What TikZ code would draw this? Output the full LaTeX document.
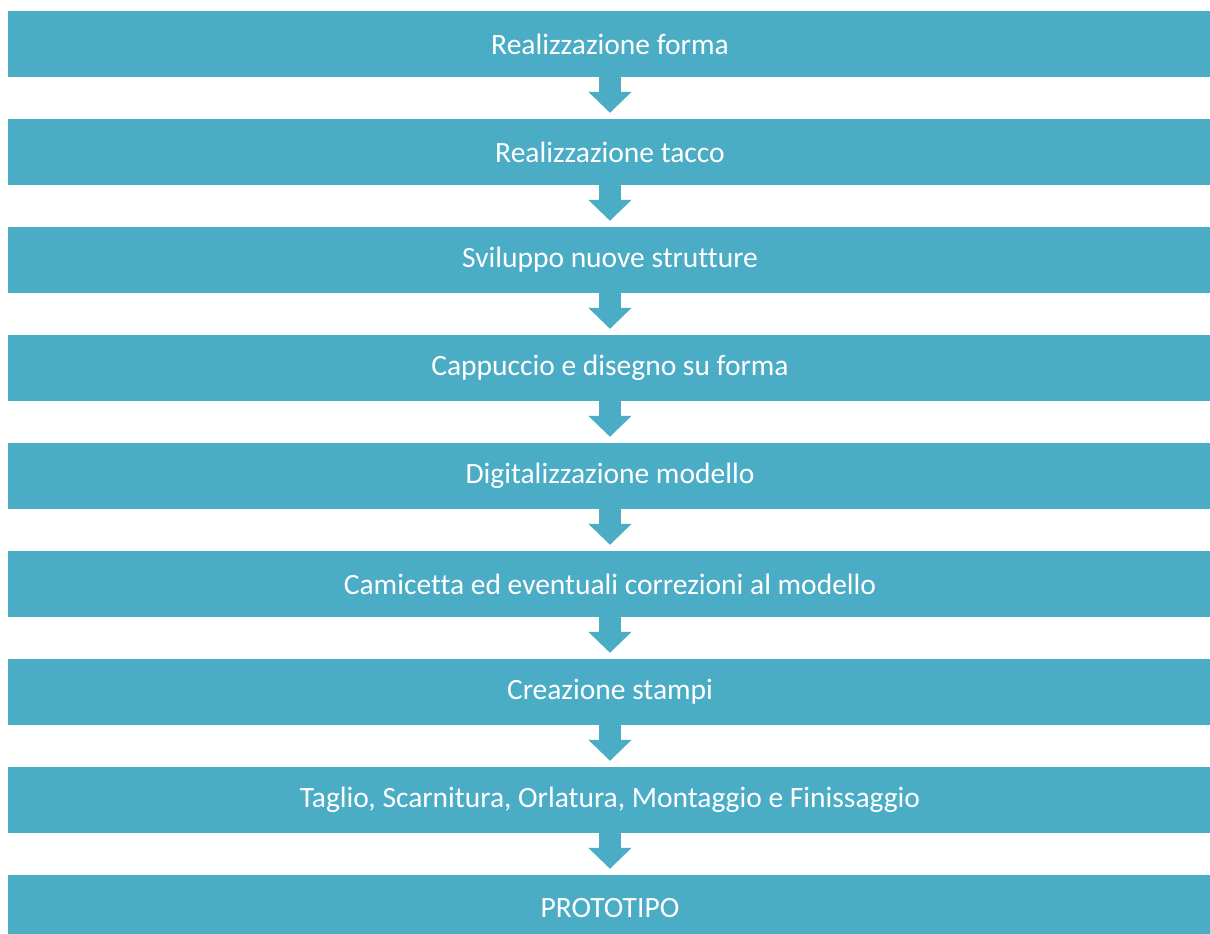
\documentclass[tikz,border=0pt]{standalone}
\usepackage{fontspec}
\setmainfont{Carlito}[Ligatures=NoCommon]
\usetikzlibrary{arrows.meta, positioning}

\definecolor{stepblue}{HTML}{4BACC6}

\begin{document}
\begin{tikzpicture}[x=1pt, y=-1pt,
  stepbox/.style={fill=stepblue, draw=none, text=white, inner sep=0pt,
    minimum width=1204pt, minimum height=66pt,
    font=\fontsize{29.5}{33}\selectfont},
  flowarrow/.style={draw=stepblue, line width=22pt,
    -{Triangle[width=42pt, length=21pt]}, shorten >=6pt}]

\def \xmid{610}
\def \yfirst{44} % centre of first box
\def \ystep{108}

\useasboundingbox (0,0) rectangle (1210,934);

% boxes from top to bottom
\node[stepbox] (forma)     at (\xmid, \yfirst)            {Realizzazione forma};
\node[stepbox] (tacco)     at (\xmid, \yfirst + \ystep)   {Realizzazione tacco};
\node[stepbox] (strutture) at (\xmid, \yfirst + 2*\ystep) {Sviluppo nuove strutture};
\node[stepbox] (cappuccio) at (\xmid, \yfirst + 3*\ystep) {Cappuccio e disegno su forma};
\node[stepbox] (digitale)  at (\xmid, \yfirst + 4*\ystep) {Digitalizzazione modello};
\node[stepbox] (camicetta) at (\xmid, \yfirst + 5*\ystep) {Camicetta ed eventuali correzioni al modello};
\node[stepbox] (stampi)    at (\xmid, \yfirst + 6*\ystep) {Creazione stampi};
\node[stepbox] (taglio)    at (\xmid, \yfirst + 7*\ystep) {Taglio, Scarnitura, Orlatura, Montaggio e Finissaggio};
\node[stepbox] (prototipo) at (\xmid, \yfirst + 8*\ystep) {PROTOTIPO};

% arrows between boxes
\draw[flowarrow] (forma)     -- (tacco);
\draw[flowarrow] (tacco)     -- (strutture);
\draw[flowarrow] (strutture) -- (cappuccio);
\draw[flowarrow] (cappuccio) -- (digitale);
\draw[flowarrow] (digitale)  -- (camicetta);
\draw[flowarrow] (camicetta) -- (stampi);
\draw[flowarrow] (stampi)    -- (taglio);
\draw[flowarrow] (taglio)    -- (prototipo);

\end{tikzpicture}
\end{document}
